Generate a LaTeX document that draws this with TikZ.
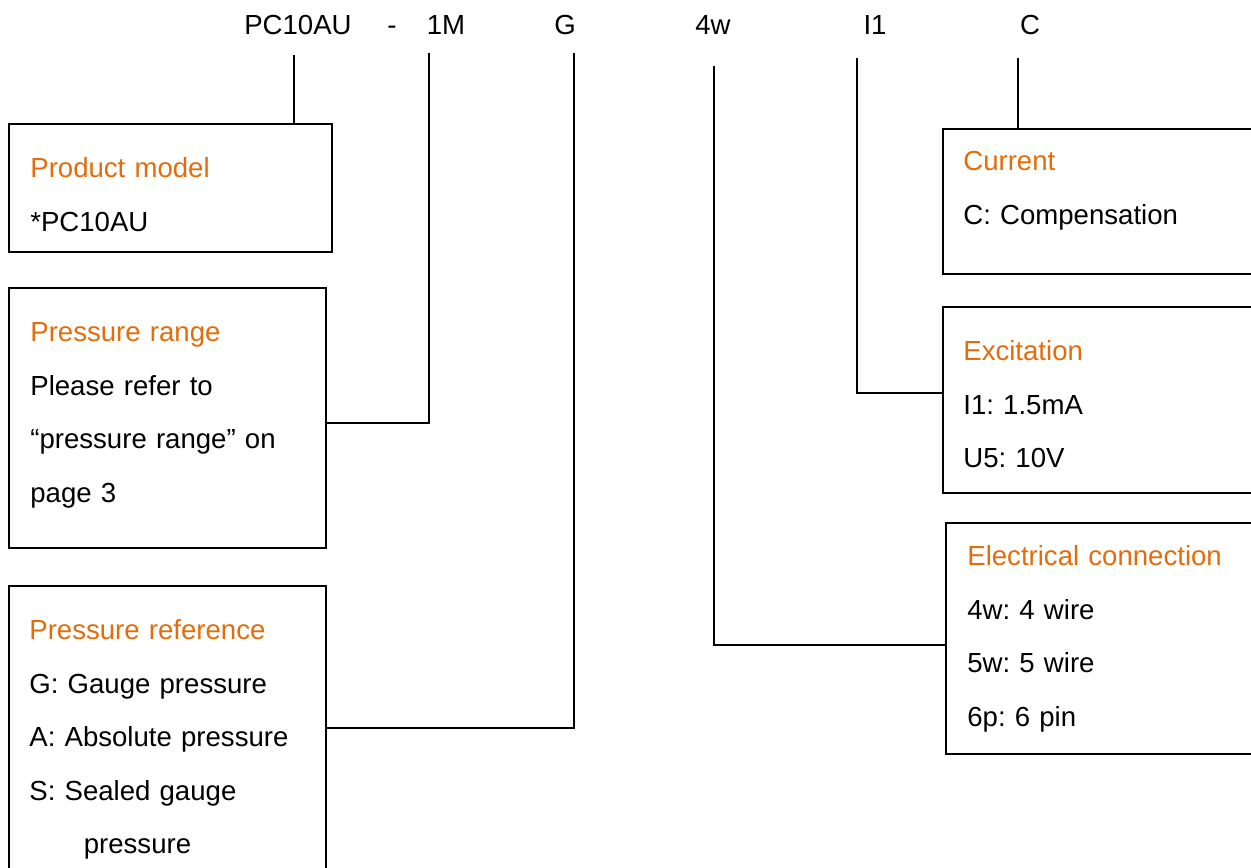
\documentclass[tikz,border=0pt]{standalone}
\usepackage{fontspec}
\setmainfont{Liberation Sans}
\frenchspacing
\usetikzlibrary{positioning}
\usetikzlibrary{fit}
\definecolor{headorange}{RGB}{228,108,10}
\tikzset{
   codebox/.style = {%
    shape=rectangle,
    draw=black,
    line width=1.1pt,
    inner sep=0pt},
  codetext/.style = {%
    anchor=base west,
    inner sep=0pt,
    text width=12cm,
    align=left,
    font=\fontsize{15.7}{30.5}\selectfont},
 codelabel/.style = {%
    anchor=base,
    inner sep=0pt,
    font=\fontsize{15.7}{18}\selectfont},
    link/.style = {%
    draw=black,
    line width=1.1pt},
    }

\begin{document}
\begin{tikzpicture}[x=0.02cm, y=-0.02cm]
    \useasboundingbox (0,0) rectangle (1251,868);
    % order code
    \node[codelabel] (pc)   at (298,35)  {PC10AU};
    \node[codelabel] (dash) at (392,35)  {-};
    \node[codelabel] (rng)  at (446,35)  {1M};
    \node[codelabel] (ref)  at (565,35)  {G};
    \node[codelabel] (wire) at (713,35)  {4w};
    \node[codelabel] (exc)  at (875,35)  {I1};
    \node[codelabel] (cur)  at (1030,35) {C};
    % boxes
    \node[codebox, fit={(9,124)(332,252)}]    (model) {};
    \node[codebox, fit={(9,288)(326,548)}]    (range) {};
    \node[codebox, fit={(9,586)(326,900)}]    (reference) {};
    \node[codebox, fit={(943,129)(1300,274)}] (current) {};
    \node[codebox, fit={(943,307)(1300,493)}] (excitation) {};
    \node[codebox, fit={(946,523)(1300,754)}] (electrical) {};
    % box texts
    \node[codetext] (modeltxt) at (30,177.5)
        {{\color{headorange}Product model}\\{*}PC10AU};
    \node[codetext] (rangetxt) at (30,341.5)
        {{\color{headorange}Pressure range}\\Please refer to\\“pressure range” on\\page 3};
    \node[codetext] (reftxt) at (29,639.5)
        {{\color{headorange}Pressure reference}\\G: Gauge pressure\\A: Absolute pressure\\S: Sealed gauge\\\hspace*{31pt}pressure};
    \node[codetext] (curtxt) at (963,170.5)
        {{\color{headorange}Current}\\C: Compensation};
    \node[codetext] (exctxt) at (963,360.5)
        {{\color{headorange}Excitation}\\I1: 1.5mA\\U5: 10V};
    \node[codetext] (elecxt) at (967,565.5)
        {{\color{headorange}Electrical connection}\\4w: 4 wire\\5w: 5 wire\\6p: 6 pin};
    % connectors
    \coordinate (pctip)   at (294,55);
    \coordinate (rngtip)  at (429,53);
    \coordinate (rngknee) at (429,423);
    \coordinate (reftip)  at (574,53);
    \coordinate (refknee) at (574,728);
    \coordinate (wiretip) at (714,66);
    \coordinate (wireknee) at (714,645);
    \coordinate (exctip)  at (857,58);
    \coordinate (excknee) at (857,393);
    \coordinate (curtip)  at (1018,58);
    \draw[link] (pctip) -- (pctip |- model.north);
    \draw[link] (rngtip) -- (rngknee) -- (rngknee -| range.east);
    \draw[link] (reftip) -- (refknee) -- (refknee -| reference.east);
    \draw[link] (wiretip) -- (wireknee) -- (wireknee -| electrical.west);
    \draw[link] (exctip) -- (excknee) -- (excknee -| excitation.west);
    \draw[link] (curtip) -- (curtip |- current.north);
\end{tikzpicture}
\end{document}
